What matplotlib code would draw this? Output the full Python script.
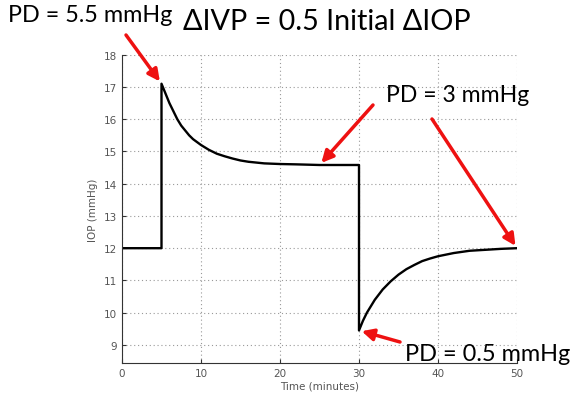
import matplotlib
matplotlib.use("Agg")
import matplotlib.pyplot as plt

# IOP response
time_min = [0, 5, 5, 5.5, 6.0, 6.5, 7.0, 7.5, 8.0, 8.5, 9.0, 10, 11, 12, 13, 14, 15, 16,
            18, 20, 22, 25, 30,
            30, 30.5, 31, 31.5, 32, 33, 34, 35, 36, 37, 38, 39, 40, 42, 44, 46, 48, 50]
iop = [12, 12, 17.1, 16.8, 16.5, 16.25, 16.0, 15.8, 15.65, 15.5, 15.38, 15.2, 15.05,
       14.93, 14.85, 14.78, 14.72, 14.68, 14.63, 14.61, 14.6, 14.58, 14.58,
       9.45, 9.75, 10.0, 10.2, 10.4, 10.72, 10.97, 11.18, 11.35, 11.48, 11.6, 11.68,
       11.75, 11.85, 11.92, 11.95, 11.98, 12.0]

xticks = [0, 10, 20, 30, 40, 50]
yticks = [9, 10, 11, 12, 13, 14, 15, 16, 17, 18]

title = "\u0394IVP = 0.5 Initial \u0394IOP"
notes = ["PD = 5.5 mmHg", "PD = 3 mmHg", "PD = 0.5 mmHg"]

W, H = 573, 402
fig = plt.figure(figsize=(W / 100, H / 100), dpi=100)
ax = fig.add_axes([122 / W, 38 / H, 395 / W, 308.3 / H])

ax.plot(time_min, iop, color="black", lw=1.7)

ax.set_xlim(0, 50)
ax.set_ylim(8.44, 18)
ax.set_xticks(xticks)
ax.set_yticks(yticks)
ax.grid(True, linestyle=(0, (1, 2.5)), color="#999999", lw=0.8)
for s in ["top", "right"]:
    ax.spines[s].set_visible(False)
for s in ["left", "bottom"]:
    ax.spines[s].set_color("#333333")
ax.tick_params(direction="in", length=3, labelsize=7.5, labelcolor="#555555", color="#333333")
ax.set_xlabel("Time (minutes)", fontsize=7.5, color="#555555", labelpad=2)
ax.set_ylabel("IOP (mmHg)", fontsize=7.5, color="#555555", labelpad=4)

font = "Lato"
fig.text(183 / W, 1 - 22 / H, title, fontsize=20.7, family=font, va="center", ha="left")
fig.text(8 / W, 1 - 15 / H, notes[0], fontsize=16.8, family=font, va="center", ha="left")
fig.text(386 / W, 1 - 95 / H, notes[1], fontsize=16.6, family=font, va="center", ha="left")
fig.text(405 / W, 1 - 355 / H, notes[2], fontsize=16.9, family=font, va="center", ha="left")

arrow = dict(arrowstyle="-|>,head_length=0.7,head_width=0.35", color="#ee1111", lw=2.5,
             shrinkA=0, shrinkB=2)
ax.annotate("", xy=(time_min[2], iop[2]), xytext=(126, H - 36),
            textcoords="figure pixels", arrowprops=arrow)
ax.annotate("", xy=(25, iop[21]), xytext=(373, H - 106),
            textcoords="figure pixels", arrowprops=arrow)
ax.annotate("", xy=(time_min[-1], iop[-1]), xytext=(432, H - 120),
            textcoords="figure pixels", arrowprops=arrow)
ax.annotate("", xy=(time_min[23], iop[23]), xytext=(400, H - 343),
            textcoords="figure pixels", arrowprops=arrow)

fig.savefig("out.png", dpi=100)
